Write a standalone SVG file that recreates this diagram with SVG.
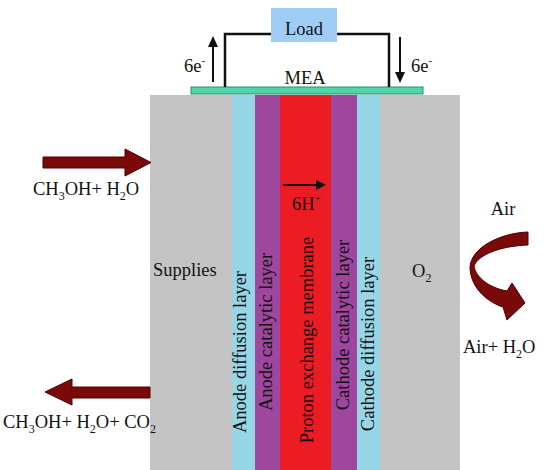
<svg xmlns="http://www.w3.org/2000/svg" width="550" height="470" viewBox="0 0 550 470">
<style>
text{font-family:"Liberation Serif","Times New Roman",serif;font-size:18.5px;fill:#111}
.fat{fill:#7a0a0a;stroke:#4a0000;stroke-width:1}
.wire{fill:none;stroke:#111;stroke-width:2.5}
.ln{stroke:#111;stroke-width:2}
.mid{text-anchor:middle}
</style>
<rect width="550" height="470" fill="#fff"/>
<g id="cell">
<rect x="150" y="95" width="310" height="375" fill="#c4c4c4"/>
<rect x="232" y="95" width="23" height="375" fill="#97d6e6"/>
<rect x="255" y="95" width="25" height="375" fill="#9f479f"/>
<rect x="280" y="95" width="51" height="375" fill="#ec1c24"/>
<rect x="331" y="95" width="26" height="375" fill="#9f479f"/>
<rect x="357" y="95" width="23" height="375" fill="#97d6e6"/>
</g>
<g id="mea">
<rect x="191" y="87" width="232" height="7" fill="#52d3a9" stroke="#2f8b70" stroke-width="1"/>
<text x="305" y="84" class="mid">MEA</text>
</g>
<g id="load">
<rect x="271" y="8" width="66" height="34" fill="#a0cdf5"/>
<text x="304" y="35" class="mid">Load</text>
</g>
<g id="connectors">
<path class="wire" d="M225,87 V34 H271 M337,34 H389 V87"/>
<line class="ln" x1="213" y1="82" x2="213" y2="45"/>
<polygon points="208,47 218,47 213,36" fill="#111"/>
<line class="ln" x1="400" y1="37" x2="400" y2="74"/>
<polygon points="395,72 405,72 400,83" fill="#111"/>
<line class="ln" x1="283" y1="185" x2="318" y2="185"/>
<polygon points="316,180 326,185 316,190" fill="#111"/>
<polygon class="fat" points="43,157 125,157 125,149 151,162.5 125,176 125,168 43,168"/>
<polygon class="fat" points="150,387 72,387 72,379 45,392 72,405 72,398 150,398"/>
<path class="fat" d="M528,232 C500,233 470,248 470,268 C471,290 490,303 503,307 L507,320 L525,303 L512,283 L507,291 C490,288 476,278 474,266 C478,255 500,246 528,245 Z"/>
</g>
<g id="labels">
<text x="184" y="72">6e<tspan font-size="11" dy="-8">-</tspan></text>
<text x="411" y="72">6e<tspan font-size="11" dy="-8">-</tspan></text>
<text x="292" y="210">6H<tspan font-size="11" dy="-8">+</tspan></text>
<text x="33" y="195">CH<tspan font-size="12" dy="5">3</tspan><tspan dy="-5">OH+ H</tspan><tspan font-size="12" dy="5">2</tspan><tspan dy="-5">O</tspan></text>
<text x="3" y="428">CH<tspan font-size="12" dy="5">3</tspan><tspan dy="-5">OH+ H</tspan><tspan font-size="12" dy="5">2</tspan><tspan dy="-5">O+ CO</tspan><tspan font-size="12" dy="5">2</tspan></text>
<text x="153" y="276">Supplies</text>
<text x="412" y="277">O<tspan font-size="12" dy="5">2</tspan></text>
<text x="503" y="215" class="mid">Air</text>
<text x="463" y="353">Air+ H<tspan font-size="12" dy="5">2</tspan><tspan dy="-5">O</tspan></text>
<text class="mid" transform="translate(246,352) rotate(-90)">Anode diffusion layer</text>
<text class="mid" transform="translate(272,332) rotate(-90)">Anode catalytic layer</text>
<text class="mid" transform="translate(313,340) rotate(-90)">Proton exchange membrane</text>
<text class="mid" transform="translate(349,325) rotate(-90)">Cathode catalytic layer</text>
<text class="mid" transform="translate(374,344) rotate(-90)">Cathode diffusion layer</text>
</g>
</svg>
